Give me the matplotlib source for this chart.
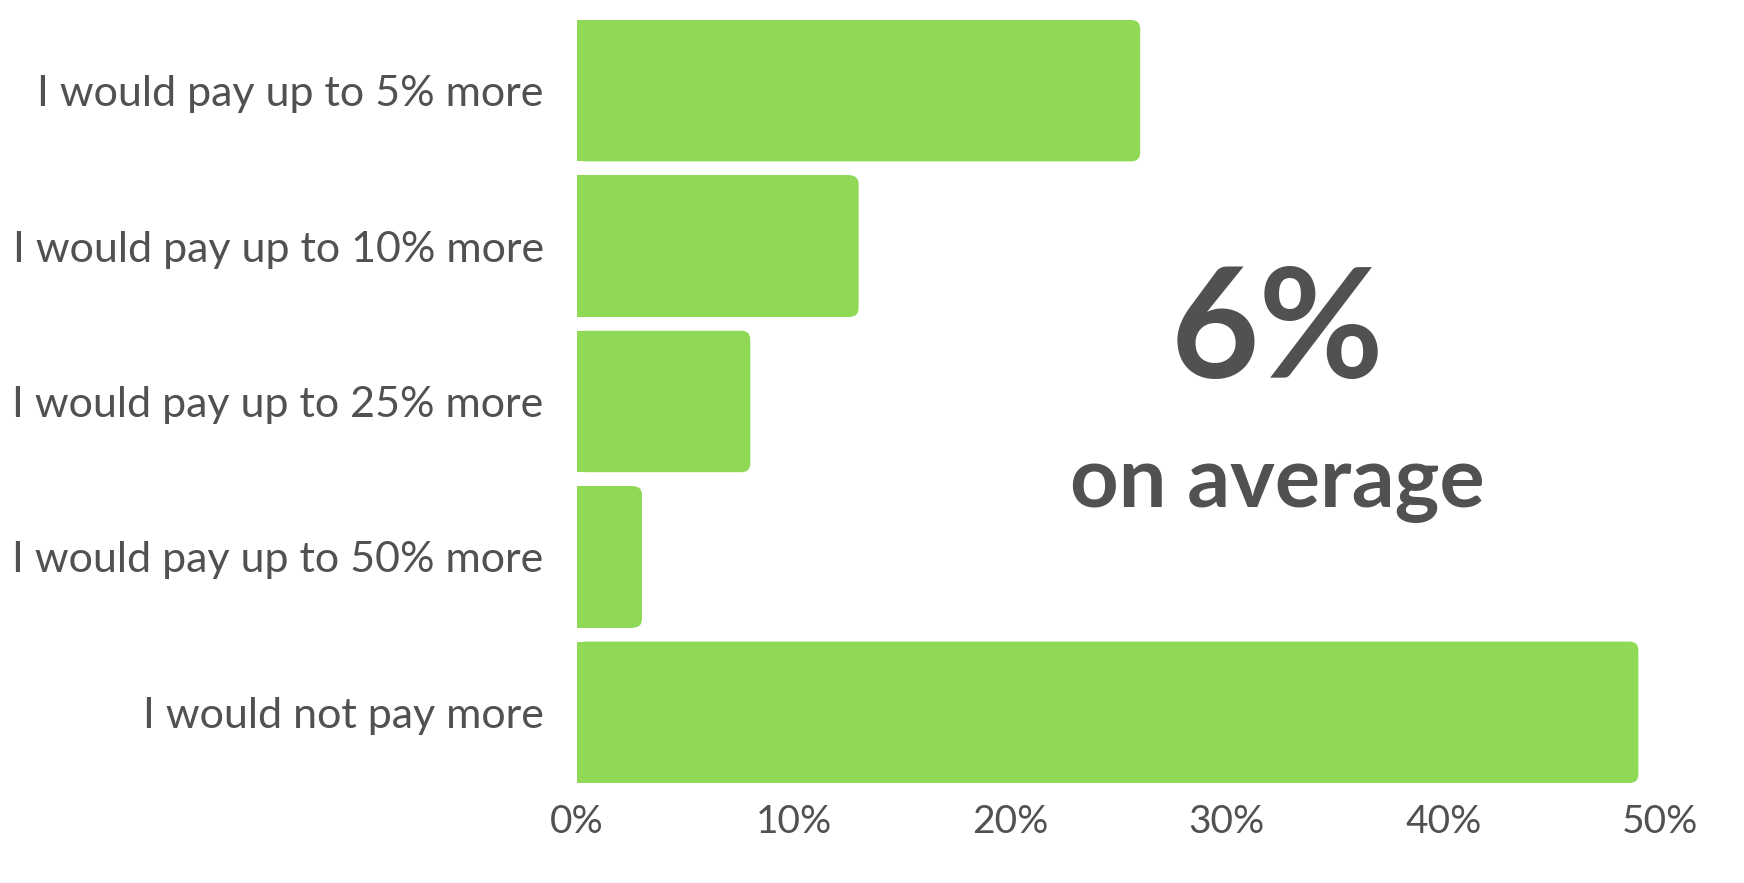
import matplotlib
matplotlib.use("Agg")
import matplotlib.pyplot as plt
from matplotlib.patches import FancyBboxPatch
from matplotlib.ticker import FuncFormatter

# Data
answers = [
    "I would pay up to 5% more",
    "I would pay up to 10% more",
    "I would pay up to 25% more",
    "I would pay up to 50% more",
    "I would not pay more",
]
shares = [26, 13, 8, 3, 49]
ticks = [0, 10, 20, 30, 40, 50]
headline = "6%"
subline = "on average"

green = "#8fd957"
grey = "#4f5152"
plt.rcParams["font.family"] = ["Lato", "DejaVu Sans"]

fig = plt.figure(figsize=(17.44, 8.83), dpi=100)
ax = fig.add_axes([577 / 1744, 1 - 783 / 883, 1083 / 1744, 763 / 883])

h = 0.91
ypos = list(range(len(answers)))
r = 0.4
for y, v in zip(ypos, shares):
    # square left part + rounded full bar on top
    ax.barh(y, v - r, height=h, color=green, linewidth=0)
    box = FancyBboxPatch((0, y - h / 2), v, h,
                         boxstyle=f"round,pad=0,rounding_size={r}",
                         mutation_aspect=0.14, facecolor=green, edgecolor="none")
    ax.add_patch(box)

ax.set_xlim(0, 50)
ax.set_ylim(len(answers) - 1 + h / 2, -h / 2)
ax.set_yticks(ypos)
ax.set_yticklabels(answers)
ax.set_xticks(ticks)
ax.xaxis.set_major_formatter(FuncFormatter(lambda x, _: f"{x:.0f}%"))
ax.tick_params(axis="y", length=0, pad=24, labelsize=31, labelcolor=grey)
ax.tick_params(axis="x", length=0, pad=15, labelsize=28, labelcolor=grey)
for s in ax.spines.values():
    s.set_visible(False)

ax.text(0.647, 0.531, headline, transform=ax.transAxes, ha="center", va="baseline",
        fontsize=110, fontweight="bold", color=grey)
ax.text(0.647, 0.362, subline, transform=ax.transAxes, ha="center", va="baseline",
        fontsize=61, fontweight="bold", color=grey)

fig.savefig("out.png", dpi=100)
